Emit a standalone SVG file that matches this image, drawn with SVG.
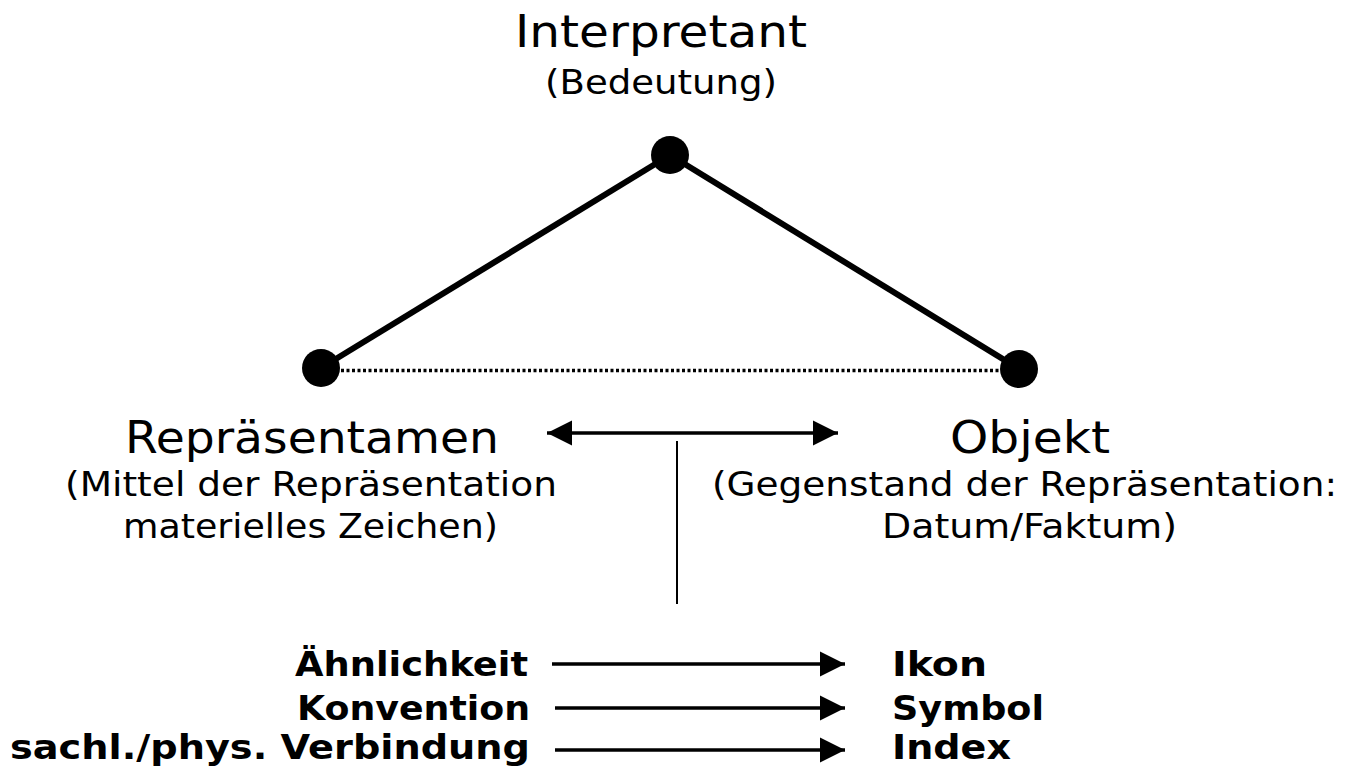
<svg xmlns="http://www.w3.org/2000/svg" width="1355" height="771" viewBox="0 0 1355 771">
  <style>
    .t { font-family: "DejaVu Sans", Verdana, sans-serif; fill: #000; }
    .big { font-size: 44px; }
    .small { font-size: 34px; }
    .bold { font-size: 33px; font-weight: bold; }
    .edge { stroke: #000; stroke-width: 6; fill: none; }
    .dot { stroke: #000; stroke-width: 3.5; stroke-dasharray: 3 2.5; fill: none; }
    .arrow { stroke: #000; stroke-width: 3.5; fill: none; }
    .node { fill: #000; }
  </style>
  <defs>
    <marker id="head" markerUnits="userSpaceOnUse" markerWidth="27" markerHeight="27" refX="25" refY="13" orient="auto-start-reverse" viewBox="0 0 27 27">
      <path d="M0,0.5 L25,13 L0,25.5 Z" fill="#000"/>
    </marker>
  </defs>
  <rect width="1355" height="771" fill="#fff"/>

  <g id="connectors">
    <line class="edge" x1="321" y1="368" x2="670" y2="155"/>
    <line class="edge" x1="670" y1="155" x2="1019" y2="369"/>
    <line class="dot" x1="330" y1="370.5" x2="999" y2="370.5"/>
    <line class="arrow" x1="547" y1="433" x2="838" y2="433" marker-start="url(#head)" marker-end="url(#head)"/>
    <line x1="677" y1="441" x2="677" y2="604" stroke="#000" stroke-width="2"/>
    <line class="arrow" x1="552" y1="664" x2="845" y2="664" marker-end="url(#head)"/>
    <line class="arrow" x1="555" y1="708" x2="845" y2="708" marker-end="url(#head)"/>
    <line class="arrow" x1="555" y1="750" x2="845" y2="750" marker-end="url(#head)"/>
  </g>

  <g id="interpretant">
    <circle class="node" cx="670" cy="155" r="19"/>
    <text class="t big" x="515" y="47" textLength="292" lengthAdjust="spacingAndGlyphs">Interpretant</text>
    <text class="t small" x="545" y="94" textLength="232" lengthAdjust="spacingAndGlyphs">(Bedeutung)</text>
  </g>

  <g id="repraesentamen">
    <circle class="node" cx="321" cy="368" r="19"/>
    <text class="t big" x="125" y="453" textLength="374" lengthAdjust="spacingAndGlyphs">Repräsentamen</text>
    <text class="t small" x="65" y="496" textLength="492" lengthAdjust="spacingAndGlyphs">(Mittel der Repräsentation</text>
    <text class="t small" x="123" y="538" textLength="375" lengthAdjust="spacingAndGlyphs">materielles Zeichen)</text>
  </g>

  <g id="objekt">
    <circle class="node" cx="1019" cy="369" r="19"/>
    <text class="t big" x="950" y="453" textLength="160" lengthAdjust="spacingAndGlyphs">Objekt</text>
    <text class="t small" x="712" y="496" textLength="625" lengthAdjust="spacingAndGlyphs">(Gegenstand der Repräsentation:</text>
    <text class="t small" x="882" y="538" textLength="295" lengthAdjust="spacingAndGlyphs">Datum/Faktum)</text>
  </g>

  <g id="aehnlichkeit">
    <text class="t bold" x="295" y="676" textLength="233" lengthAdjust="spacingAndGlyphs">Ähnlichkeit</text>
  </g>
  <g id="konvention">
    <text class="t bold" x="297" y="720" textLength="233" lengthAdjust="spacingAndGlyphs">Konvention</text>
  </g>
  <g id="verbindung">
    <text class="t bold" x="10" y="759" textLength="520" lengthAdjust="spacingAndGlyphs">sachl./phys. Verbindung</text>
  </g>
  <g id="ikon">
    <text class="t bold" x="892" y="676" textLength="95" lengthAdjust="spacingAndGlyphs">Ikon</text>
  </g>
  <g id="symbol">
    <text class="t bold" x="892" y="720" textLength="152" lengthAdjust="spacingAndGlyphs">Symbol</text>
  </g>
  <g id="index">
    <text class="t bold" x="892" y="759" textLength="119" lengthAdjust="spacingAndGlyphs">Index</text>
  </g>
</svg>
